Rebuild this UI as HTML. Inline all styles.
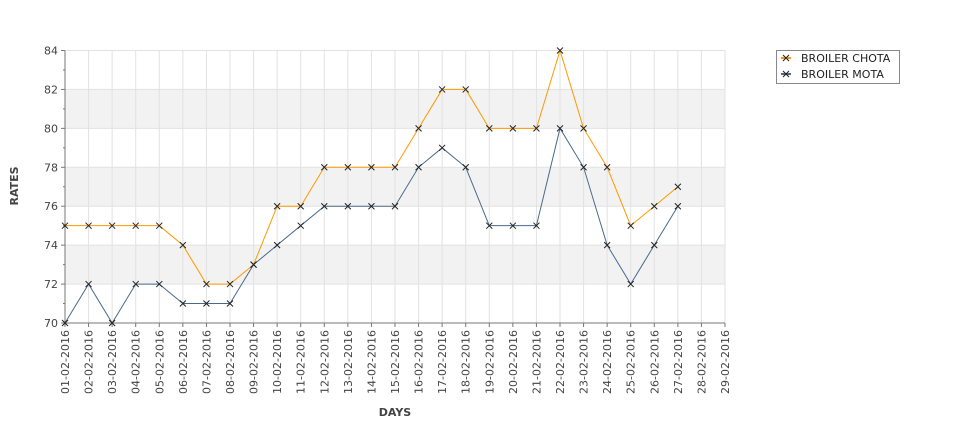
<!DOCTYPE html>
<html><head><meta charset="utf-8"><style>
body{margin:0;background:#fff;width:975px;height:429px;overflow:hidden;font-family:"Liberation Sans","DejaVu Sans",sans-serif}
</style></head><body>
<svg id="chart" width="975" height="429" xmlns="http://www.w3.org/2000/svg" font-family="DejaVu Sans, Liberation Sans, sans-serif">
<g id="bands"></g><g id="grid"></g><g id="axes"></g><g id="series"></g>
<text x="18" y="186" transform="rotate(-90 18 186)" text-anchor="middle" font-size="11" font-weight="bold" fill="#444">RATES</text>
<text x="395" y="416" text-anchor="middle" font-size="11" font-weight="bold" fill="#444">DAYS</text>
<g>
<rect x="776.5" y="50.5" width="123" height="33" fill="#fff" stroke="#888"/>
<g>
<line x1="781" y1="58" x2="791" y2="58" stroke="#ff9900" stroke-width="2"/>
<path d="M783 55 l6 6 M789 55 l-6 6" stroke="#222" stroke-width="1"/>
<text x="801" y="62" font-size="11" fill="#222">BROILER CHOTA</text></g>
<g>
<line x1="781" y1="74" x2="791" y2="74" stroke="#4a6a8a" stroke-width="2"/>
<path d="M783 71 l6 6 M789 71 l-6 6" stroke="#222" stroke-width="1"/>
<text x="801" y="78" font-size="11" fill="#222">BROILER MOTA</text></g>
</g>
</svg>
<script>
const categories=["01-02-2016","02-02-2016","03-02-2016","04-02-2016","05-02-2016","06-02-2016","07-02-2016","08-02-2016","09-02-2016","10-02-2016","11-02-2016","12-02-2016","13-02-2016","14-02-2016","15-02-2016","16-02-2016","17-02-2016","18-02-2016","19-02-2016","20-02-2016","21-02-2016","22-02-2016","23-02-2016","24-02-2016","25-02-2016","26-02-2016","27-02-2016","28-02-2016","29-02-2016"];
const chota=[75,75,75,75,75,74,72,72,73,76,76,78,78,78,78,80,82,82,80,80,80,84,80,78,75,76,77];
const mota=[70,72,70,72,72,71,71,71,73,74,75,76,76,76,76,78,79,78,75,75,75,80,78,74,72,74,76];
const yTicks=[70,72,74,76,78,80,82,84];
const NS="http://www.w3.org/2000/svg";
const X0=65,X1=725,Y0=323,Y1=50.5,YMIN=70,YMAX=84;
const xs=i=>X0+i*(X1-X0)/(categories.length-1);
const ys=v=>Y0-(v-YMIN)*(Y0-Y1)/(YMAX-YMIN);
function mk(p,t,a){const e=document.createElementNS(NS,t);for(const k in a)e.setAttribute(k,a[k]);p.appendChild(e);return e;}
const bands=document.getElementById('bands'),grid=document.getElementById('grid'),axes=document.getElementById('axes'),ser=document.getElementById('series');
for(let i=1;i<yTicks.length;i+=2){if(i%4===1&&false){} }
[[72,74],[76,78],[80,82]].forEach(b=>{const r=mk(bands,'rect',{x:X0,y:ys(b[1]),width:X1-X0,height:ys(b[0])-ys(b[1]),fill:'#f2f2f2'});

});
yTicks.forEach(v=>{const y=ys(v);
const l=mk(grid,'line',{x1:X0,x2:X1,y1:y,y2:y,stroke:'#e2e2e2'});


mk(axes,'line',{x1:X0-4,x2:X0,y1:y,y2:y,stroke:'#777'});
if(v<YMAX)mk(axes,'line',{x1:X0-2,x2:X0,y1:ys(v+1),y2:ys(v+1),stroke:'#777'});
const t=mk(axes,'text',{x:X0-7,y:y+4,'text-anchor':'end','font-size':11,fill:'#444'});t.textContent=v;

});
categories.forEach((c,i)=>{const x=xs(i);
if(i>0){const l=mk(grid,'line',{x1:x,x2:x,y1:Y1,y2:Y0,stroke:'#e2e2e2'});

}
mk(axes,'line',{x1:x,x2:x,y1:Y0,y2:Y0+4,stroke:'#777'});
const t=mk(axes,'text',{x:x+4,y:Y0+7,'text-anchor':'end','font-size':11,fill:'#444',transform:`rotate(-90 ${x+4} ${Y0+7})`});t.textContent=c;

});
mk(axes,'line',{x1:X0,x2:X0,y1:Y1,y2:Y0,stroke:'#777'});
mk(axes,'line',{x1:X0,x2:X1,y1:Y0,y2:Y0,stroke:'#777'});
function draw(data,color,name){
const g=mk(ser,'g',{});


mk(g,'polyline',{points:data.map((v,i)=>xs(i)+','+ys(v)).join(' '),fill:'none',stroke:color,'stroke-width':1});
data.forEach((v,i)=>{const x=xs(i),y=ys(v);
const p=mk(g,'path',{d:`M${x-3} ${y-3}L${x+3} ${y+3}M${x+3} ${y-3}L${x-3} ${y+3}`,stroke:'#222','stroke-width':1});

});}
draw(chota,'#ff9900','series-broiler-chota');
draw(mota,'#4a6a8a','series-broiler-mota');
</script>
</body></html>
